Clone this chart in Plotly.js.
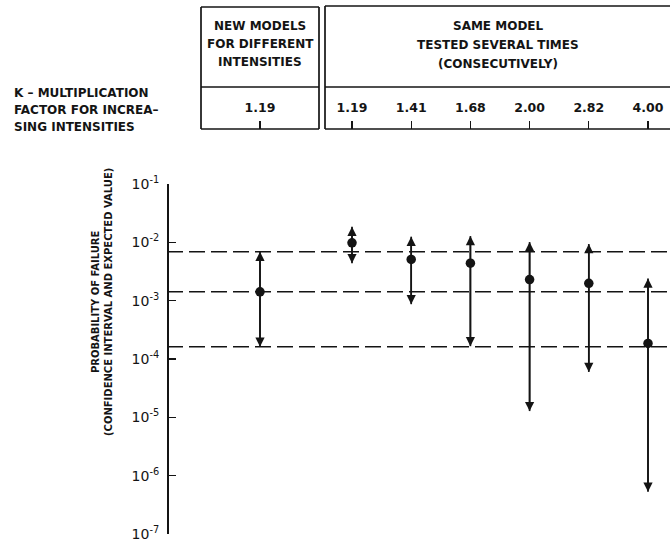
<!DOCTYPE html>
<html><head><meta charset="utf-8">
<script src="https://cdn.plot.ly/plotly-3.0.1.min.js"></script>
<style>html,body{margin:0;padding:0;background:#fff;}</style>
</head><body><div id="chart" style="width:670px;height:546px;"></div>
<script>
// ---- data ----
const newModelK = ["1.19"];
const newModelMean = [1.42e-3];
const newModelUpper = [6.9e-3];
const newModelLower = [1.62e-4];

const sameModelK = ["1.19", "1.41", "1.68", "2.00", "2.82", "4.00"];
const sameModelMean = [9.8e-3, 5.1e-3, 4.4e-3, 2.3e-3, 1.98e-3, 1.85e-4];
const sameModelUpper = [1.85e-2, 1.25e-2, 1.28e-2, 1.01e-2, 9.35e-3, 2.4e-3];
const sameModelLower = [4.4e-3, 8.7e-4, 1.66e-4, 1.28e-5, 6.0e-5, 5.3e-7];

const yTickVals = [1e-1, 1e-2, 1e-3, 1e-4, 1e-5, 1e-6, 1e-7];
const yTickText = ["10<sup>-1</sup>", "10<sup>-2</sup>", "10<sup>-3</sup>", "10<sup>-4</sup>", "10<sup>-5</sup>", "10<sup>-6</sup>", "10<sup>-7</sup>"];

// ---- layout helpers ----
const W = 670, H = 546;
const px = v => v / W;
const py = v => 1 - v / H;
const INK = '#141414';
const FONT = 'DejaVu Sans';

function pointTrace(k, mean, up, lo, xa) {
  return {
    type: 'scatter', mode: 'markers', x: k, y: mean, xaxis: xa, yaxis: 'y',
    marker: {size: 9.5, color: INK},
    error_y: {type: 'data', symmetric: false,
      array: up.map((u, i) => u - mean[i]),
      arrayminus: mean.map((m, i) => m - lo[i]),
      width: 0, thickness: 1.7, color: INK},
    hoverinfo: 'skip', showlegend: false, cliponaxis: false
  };
}

function arrowAnnots(k, mean, up, lo, xa) {
  const out = [];
  k.forEach((c, i) => {
    [up[i], lo[i]].forEach(tip => {
      out.push({xref: xa, yref: 'y', axref: xa, ayref: 'y',
        x: i, y: Math.log10(tip), ax: i, ay: Math.log10(mean[i]),
        text: '', showarrow: true, arrowhead: 2, arrowsize: 1.15, arrowwidth: 1.6,
        arrowcolor: INK, standoff: 0, startstandoff: 0});
    });
  });
  return out;
}

const refLevels = [newModelUpper[0], newModelMean[0], newModelLower[0]];

const shapes = [];
const ln = (x0, y0, x1, y1) => shapes.push({type: 'line', xref: 'paper', yref: 'paper',
  x0: px(x0), y0: py(y0), x1: px(x1), y1: py(y1), line: {color: INK, width: 1.7}});
// left box
ln(201, 7, 319, 7); ln(201, 7, 201, 129); ln(319, 7, 319, 129); ln(201, 87, 319, 87); ln(201, 129, 319, 129);
// right box
ln(325, 6, 670, 6); ln(325, 6, 325, 129); ln(325, 87, 670, 87); ln(325, 129, 670, 129);
refLevels.forEach(v => shapes.push({type: 'line', xref: 'paper', yref: 'y',
  x0: px(167), x1: 1, y0: v, y1: v, line: {color: INK, width: 1.5, dash: '16px,6px'}}));

const txt = (s, x, y, anchor, size) => ({xref: 'paper', yref: 'paper', x: px(x), y: py(y),
  text: s, showarrow: false, xanchor: anchor || 'center', yanchor: 'middle',
  font: {family: FONT, size: size || 12, color: INK, weight: 'bold'}});

const annotations = [
  txt('NEW MODELS', 260, 26), txt('FOR DIFFERENT', 260, 44), txt('INTENSITIES', 260, 62),
  txt('SAME MODEL', 498, 26), txt('TESTED SEVERAL TIMES', 498, 45), txt('(CONSECUTIVELY)', 498, 64),
  txt('K \u2013 MULTIPLICATION', 12, 93, 'left'), txt('FACTOR FOR INCREA\u2013', 12, 110, 'left'),
  txt('SING INTENSITIES', 12, 127, 'left'),
  {xref: 'paper', yref: 'paper', x: px(102), y: py(302), textangle: -90, showarrow: false,
   text: 'PROBABILITY OF FAILURE<br>(CONFIDENCE INTERVAL AND EXPECTED VALUE)',
   font: {family: FONT, size: 10, color: INK, weight: 'bold'}, xanchor: 'center', yanchor: 'middle'}
].concat(arrowAnnots(newModelK, newModelMean, newModelUpper, newModelLower, 'x'))
 .concat(arrowAnnots(sameModelK, sameModelMean, sameModelUpper, sameModelLower, 'x2'));

const xCommon = {type: 'category', anchor: 'free', position: py(129), side: 'top',
  ticks: 'outside', ticklen: 8, tickwidth: 1.4, tickcolor: INK, showline: false,
  showgrid: false, zeroline: false, ticklabelstandoff: 4,
  tickfont: {family: FONT, size: 12.5, color: INK, weight: 'bold'}, fixedrange: true};

const layout = {
  width: W, height: H, autosize: false,
  margin: {l: 0, r: 0, t: 0, b: 0},
  paper_bgcolor: '#fff', plot_bgcolor: 'rgba(0,0,0,0)',
  showlegend: false,
  xaxis: Object.assign({}, xCommon, {domain: [px(201), px(319)], range: [-0.5, 0.5]}),
  xaxis2: Object.assign({}, xCommon, {domain: [px(325), 1],
    range: [(325 - 352) / 59.2, (670 - 352) / 59.2]}),
  yaxis: {type: 'log', range: [-7, -1], domain: [py(534), py(184)], anchor: 'free',
    position: px(167), tickvals: yTickVals, ticktext: yTickText,
    ticks: 'inside', ticklen: 7, tickwidth: 1.4, tickcolor: INK,
    showline: true, linecolor: INK, linewidth: 1.7, showgrid: false, zeroline: false,
    ticklabelstandoff: 5, tickfont: {family: FONT, size: 14, color: INK}, fixedrange: true},
  shapes: shapes,
  annotations: annotations
};

const data = [
  pointTrace(newModelK, newModelMean, newModelUpper, newModelLower, 'x'),
  pointTrace(sameModelK, sameModelMean, sameModelUpper, sameModelLower, 'x2')
];

Plotly.newPlot('chart', data, layout, {displayModeBar: false, staticPlot: true});
</script></body></html>
